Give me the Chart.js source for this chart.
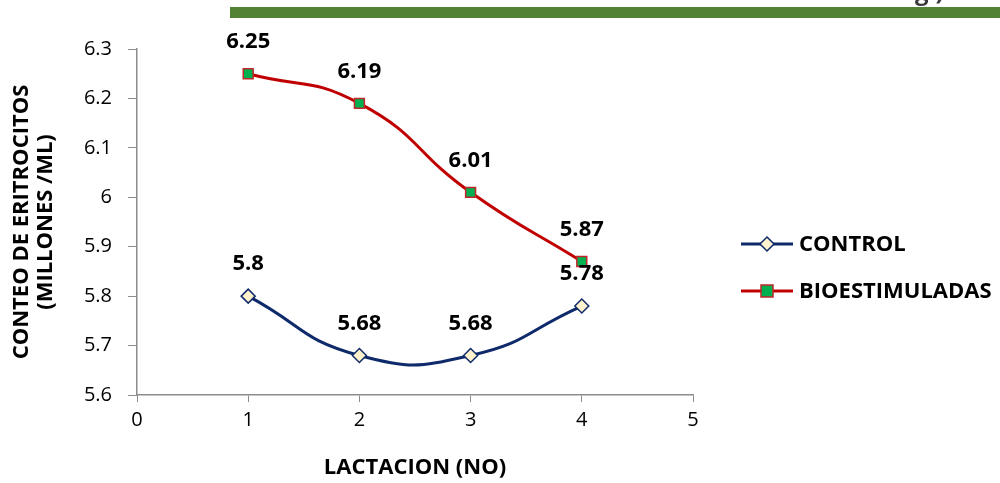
<!DOCTYPE html>
<html>
<head>
<meta charset="utf-8">
<script src="https://cdn.jsdelivr.net/npm/chart.js@4"></script>
<style>
  html, body { margin: 0; padding: 0; background: #fff; }
  #wrap { width: 1000px; height: 483px; }
</style>
</head>
<body>
<div id="wrap"><canvas id="chart" width="1000" height="483"></canvas></div>
<script>
// data
const lactacion = [1, 2, 3, 4];
const control = [5.8, 5.68, 5.68, 5.78];
const bioestimuladas = [6.25, 6.19, 6.01, 5.87];
const seriesNames = ['CONTROL', 'BIOESTIMULADAS'];
const yTicks = [5.6, 5.7, 5.8, 5.9, 6, 6.1, 6.2, 6.3];
const xTicks = [0, 1, 2, 3, 4, 5];

const FONT = '"Open Sans", Lato, sans-serif';

// green header strip + the cut-off bit of slide title above it
const topBar = {
    id: 'topBar',
    beforeDraw(chart) {
        const c = chart.ctx;
        c.save();
        c.fillStyle = '#548235';
        c.fillRect(230, 7, 770, 11);
        c.fillStyle = '#3a3a3a';
        c.font = 'bold 24px ' + FONT;
        c.textBaseline = 'alphabetic';
        c.fillText('g.)', 915, 0);
        c.restore();
    }
};

// value labels above each point
const valueLabels = {
    id: 'valueLabels',
    afterDatasetsDraw(chart) {
        const c = chart.ctx;
        c.save();
        c.font = 'bold 22px ' + FONT;
        c.fillStyle = '#000';
        c.textAlign = 'center';
        c.textBaseline = 'middle';
        chart.data.datasets.forEach((ds, i) => {
            chart.getDatasetMeta(i).data.forEach((pt, j) => {
                c.fillText(String(ds.data[j].y), pt.x, pt.y - 32);
            });
        });
        c.restore();
    }
};

// legend with line + marker, like the spreadsheet one
const sideLegend = {
    id: 'sideLegend',
    afterDraw(chart) {
        const c = chart.ctx;
        c.save();
        chart.data.datasets.forEach((ds, i) => {
            const y = 244 + i * 47;
            c.strokeStyle = ds.borderColor;
            c.lineWidth = 3;
            c.beginPath();
            c.moveTo(741, y);
            c.lineTo(793, y);
            c.stroke();
            c.fillStyle = ds.pointBackgroundColor;
            c.strokeStyle = ds.pointBorderColor;
            c.lineWidth = 1.5;
            c.beginPath();
            if (ds.pointStyle === 'rectRot') {
                c.moveTo(767, y - 7); c.lineTo(774, y); c.lineTo(767, y + 7); c.lineTo(760, y);
            } else {
                c.rect(761, y - 6, 12, 12);
            }
            c.closePath();
            c.fill();
            c.stroke();
            c.fillStyle = '#000';
            c.font = 'bold 22px ' + FONT;
            c.textBaseline = 'middle';
            c.fillText(ds.label, 799, y + 1);
        });
        c.restore();
    }
};

const ctx = document.getElementById('chart').getContext('2d');
new Chart(ctx, {
    type: 'line',
    data: {
        datasets: [
            {
                label: seriesNames[0],
                data: lactacion.map((x, i) => ({ x: x, y: control[i] })),
                borderColor: '#0f2a6b',
                borderWidth: 3,
                pointStyle: 'rectRot',
                pointRadius: 7,
                pointBackgroundColor: '#fff2cc',
                pointBorderColor: '#0f2a6b',
                pointBorderWidth: 1.5,
                tension: 0.5,
                fill: false
            },
            {
                label: seriesNames[1],
                data: lactacion.map((x, i) => ({ x: x, y: bioestimuladas[i] })),
                borderColor: '#c00000',
                borderWidth: 3,
                pointStyle: 'rect',
                pointRadius: 7,
                pointBackgroundColor: '#00b050',
                pointBorderColor: '#c0262a',
                pointBorderWidth: 1.5,
                tension: 0.5,
                fill: false
            }
        ]
    },
    options: {
        responsive: false,
        animation: false,
        layout: { padding: { top: 49, right: 307, left: 0, bottom: 0 } },
        plugins: {
            legend: { display: false },
            tooltip: { enabled: false }
        },
        scales: {
            x: {
                type: 'linear',
                min: 0,
                max: 5,
                afterBuildTicks: s => { s.ticks = xTicks.map(v => ({ value: v })); },
                afterFit: s => { s.height = 88; },
                grid: { drawOnChartArea: false, tickLength: 7, color: '#8c8c8c' },
                border: { color: '#8c8c8c', width: 1.5 },
                ticks: { color: '#000', font: { family: FONT, size: 20 }, padding: 6 },
                title: {
                    display: true,
                    text: 'LACTACION (NO)',
                    color: '#000',
                    font: { family: FONT, size: 22, weight: 'bold' },
                    padding: { top: 10, bottom: 2 }
                }
            },
            y: {
                min: 5.6,
                max: 6.3,
                afterBuildTicks: s => { s.ticks = yTicks.map(v => ({ value: v })); },
                afterFit: s => { s.width = 137; },
                grid: { drawOnChartArea: false, tickLength: 9, color: '#8c8c8c' },
                border: { color: '#8c8c8c', width: 1.5 },
                ticks: {
                    color: '#000',
                    font: { family: FONT, size: 20 },
                    padding: 16,
                    callback: v => String(+v.toFixed(1))
                },
                title: {
                    display: true,
                    text: ['CONTEO DE ERITROCITOS', '(MILLONES /ML)'],
                    color: '#000',
                    font: { family: FONT, size: 22, weight: 'bold', lineHeight: 1.08 },
                    padding: { top: 10, bottom: 0 }
                }
            }
        }
    },
    plugins: [topBar, valueLabels, sideLegend]
});
</script>
</body>
</html>
